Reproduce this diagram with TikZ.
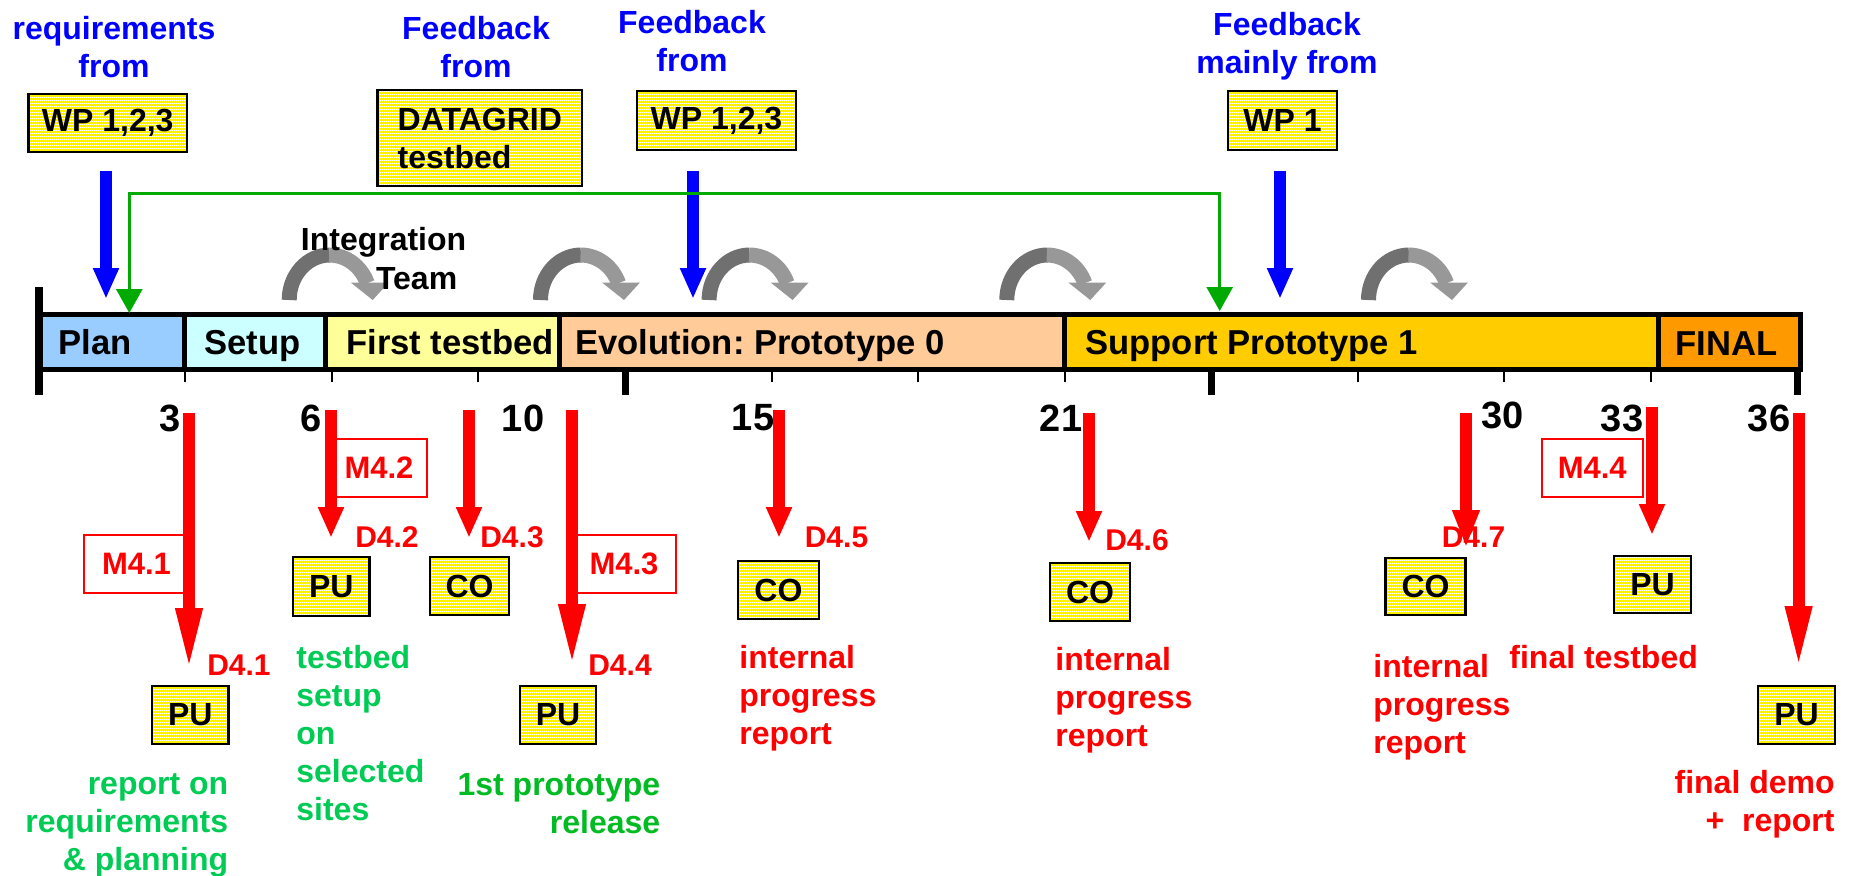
\documentclass[tikz,border=0pt]{standalone}
\usepackage{fontspec}
\setmainfont{Liberation Sans}
\usetikzlibrary{arrows.meta,patterns}
\pgfdeclarepatternformonly{ystripes}{\pgfqpoint{0pt}{0pt}}{\pgfqpoint{1pt}{1.5pt}}{\pgfqpoint{1pt}{1.5pt}}{\pgfpathrectangle{\pgfqpoint{-0.1pt}{0pt}}{\pgfqpoint{1.2pt}{0.65pt}}\pgfusepath{fill}}
\definecolor{cplan}{HTML}{99CCFF}
\definecolor{csetup}{HTML}{CCFFFF}
\definecolor{cfirst}{HTML}{FFFF99}
\definecolor{cevo}{HTML}{FFCC99}
\definecolor{csupp}{HTML}{FFCC00}
\definecolor{cfinal}{HTML}{FF9900}
\definecolor{cblue}{HTML}{0000FF}
\definecolor{cred}{HTML}{FF0000}
\definecolor{cgreenA}{HTML}{00CC55}
\definecolor{cgreenB}{HTML}{00BB22}
\definecolor{cgline}{HTML}{00AA00}
\definecolor{cgdark}{HTML}{707070}
\definecolor{cglight}{HTML}{989898}
\tikzset{
  txt/.style={inner sep=0pt, font=\fontsize{16}{19}\selectfont\bfseries},
  bluetxt/.style={txt, text=cblue, align=center, anchor=base},
  num/.style={inner sep=0pt, font=\fontsize{19}{22}\selectfont\bfseries},
  dlab/.style={inner sep=0pt, text=cred, font=\fontsize{15}{18}\selectfont\bfseries},
  mbox/.style={draw=cred, line width=1pt, inner sep=0pt, text=cred, font=\fontsize{15.5}{18}\selectfont\bfseries},
  seglab/.style={inner sep=0pt, font=\fontsize{17.3}{20}\selectfont\bfseries, anchor=base west},
  ybox/.style={draw=black, line width=1.2pt, preaction={fill=yellow}, pattern=ystripes, pattern color=white, inner sep=0pt, font=\fontsize{16}{19}\selectfont\bfseries},
  seg/.style={draw=black, line width=2.5pt},
  redarr/.style={draw=cred, line width=6pt, -{Triangle[length=15.5pt,width=12pt]}},
  redlong/.style={draw=cred, line width=6pt, -{Triangle[length=32pt,width=12pt]}},
  bluearr/.style={draw=cblue, line width=6.3pt, -{Triangle[length=15.5pt,width=12pt]}},
  greenarr/.style={draw=cgline, line width=1.5pt, {Triangle[length=12pt,width=13pt]}-{Triangle[length=12pt,width=13pt]}},
  gtxt/.style={txt, text=cgreenA},
  rtxt/.style={txt, text=cred},
  pics/grayarc/.style={code={
    \draw[cgdark, line width=7.5pt] (7.5,0) .. controls (7.5,-24.85) and (25.63,-45) .. (48,-45);
    \draw[cglight, line width=7.5pt] (47.5,-45) .. controls (64.5,-45) and (79.37,-33.87) .. (85.55,-16.86);
    \fill[cglight] (69,-17.5) -- (107,-17.5) -- (91,0) -- cycle;
  }}
}
\begin{document}
\begin{tikzpicture}[x=0.5pt,y=-0.5pt]
\useasboundingbox (0,0) rectangle (1852,875);
\fill[white] (0,0) rectangle (1852,875);

% top texts (base anchor = baseline of last line)
\node[bluetxt] (req) at (114,77.5) {requirements\\from};
\node[bluetxt] (fb1) at (476,77.5) {Feedback\\from};
\node[bluetxt] (fb2) at (692,71.5) {Feedback\\from};
\node[bluetxt] (fb3) at (1287,73.5) {Feedback\\mainly from};

% top boxes
\node[ybox, minimum width=79.25pt, minimum height=29pt] (wp1) at (107.75,123) {WP 1,2,3};
\node[ybox, minimum width=102.2pt, minimum height=48pt, align=left] (dg) at (479.8,138) {DATAGRID\\testbed};
\node[ybox, minimum width=79.5pt, minimum height=29.5pt] (wp2) at (716.5,120.5) {WP 1,2,3};
\node[ybox, minimum width=54.5pt, minimum height=29.5pt] (wp3) at (1282.5,120.5) {WP 1};

% gray curved arrows
\pic at (281.7,300) {grayarc};
\pic at (533,300) {grayarc};
\pic at (701.6,300) {grayarc};
\pic at (999.3,300) {grayarc};
\pic at (1361,300) {grayarc};

\node[txt, anchor=base west] (intA) at (300.5,250) {Integration};
\node[txt, anchor=base west] (intB) at (375.6,289) {Team};

% blue arrows
\coordinate (b1s) at (106,171); \coordinate (b1e) at (106,299);
\coordinate (b2s) at (693,171); \coordinate (b2e) at (693,299);
\coordinate (b3s) at (1280,171); \coordinate (b3e) at (1280,299);
\draw[bluearr] (b1s) -- (b1e);
\draw[bluearr] (b2s) -- (b2e);
\draw[bluearr] (b3s) -- (b3e);

% bar
\draw[seg, fill=cplan] (38.8,314.2) rectangle (184.7,369.2);
\draw[seg, fill=csetup] (184.7,314.2) rectangle (325.8,369.2);
\draw[seg, fill=cfirst] (325.8,314.2) rectangle (559.5,369.2);
\draw[seg, fill=cevo] (559.5,314.2) rectangle (1064,369.2);
\draw[seg, fill=csupp] (1064,314.2) rectangle (1658.7,369.2);
\draw[seg, fill=cfinal] (1658.7,314.2) rectangle (1800.5,369.2);
\draw[line width=3.85pt] (38.8,287) -- (38.8,395);
\foreach \m in {3,6,9,15,18,21,27,30,33} \draw[line width=1pt] ({38.8+48.853*\m},370) -- ({38.8+48.853*\m},382);
\foreach \m in {12,24,36} \draw[line width=3.5pt] ({38.8+48.853*\m},370) -- ({38.8+48.853*\m},395);

\node[seglab] (lplan) at (58,354) {Plan};
\node[seglab] (lsetup) at (204,354) {Setup};
\node[seglab] (lfirst) at (346,354) {First testbed};
\node[seglab] (levo) at (575,354) {Evolution:\ Prototype 0};
\node[seglab] (lsupp) at (1085,354) {Support Prototype 1};
\node[seglab] (lfinal) at (1675,355) {FINAL};

% green feedback line
\coordinate (gl) at (129.3,313);
\coordinate (gr) at (1219.7,311);
\draw[greenarr] (gl) -- ++(0,-120) -| (gr);

% numbers
\node[num] (n3) at (170.5,418) {3};
\node[num] (n6) at (311,418) {6};
\node[num] (n10) at (523,418) {10};
\node[num] (n15) at (753,418) {15};
\node[num] (n21) at (1061,418) {21};
\node[num] (n30) at (1502.5,415) {30};
\node[num] (n33) at (1622,418) {33};
\node[num] (n36) at (1769,418) {36};

% milestone boxes
\node[mbox, minimum width=52.5pt, minimum height=29pt] (m41) at (136.5,564) {M4.1};
\node[mbox, minimum width=48pt, minimum height=29pt] (m42) at (379,468) {M4.2};
\node[mbox, minimum width=52pt, minimum height=29pt] (m43) at (624,564) {M4.3};
\node[mbox, minimum width=50.25pt, minimum height=29pt] (m44) at (1592.25,468) {M4.4};

% red arrows
\coordinate (r1s) at (189,413); \coordinate (r1e) at (189,672);
\coordinate (r2s) at (331,410); \coordinate (r2e) at (331,538);
\coordinate (r3s) at (469,410); \coordinate (r3e) at (469,538);
\coordinate (r4s) at (572,410); \coordinate (r4e) at (572,668);
\coordinate (r5s) at (779,410); \coordinate (r5e) at (779,538);
\coordinate (r6s) at (1089,413); \coordinate (r6e) at (1089,542);
\coordinate (r7s) at (1466,413); \coordinate (r7e) at (1466,548);
\coordinate (r8s) at (1652,407); \coordinate (r8e) at (1652,535);
\coordinate (r9s) at (1798.6,413); \coordinate (r9e) at (1798.6,670);
\draw[redlong] (r1s) -- (r1e);
\draw[redarr] (r2s) -- (r2e);
\draw[redarr] (r3s) -- (r3e);
\draw[redlong] (r4s) -- (r4e);
\draw[redarr] (r5s) -- (r5e);
\draw[redarr] (r6s) -- (r6e);
\draw[redarr, -{Triangle[length=19pt,width=12.5pt]}] (r7s) -- (r7e);
\draw[redarr] (r8s) -- (r8e);
\draw[redlong] (r9s) -- (r9e);

% deliverable labels
\node[dlab] (d41) at (239,665) {D4.1};
\node[dlab] (d42) at (387,537) {D4.2};
\node[dlab] (d43) at (512,537) {D4.3};
\node[dlab] (d44) at (620,665) {D4.4};
\node[dlab] (d45) at (836.5,537) {D4.5};
\node[dlab] (d46) at (1137,540) {D4.6};
\node[dlab] (d47) at (1473.5,537) {D4.7};

% deliverable boxes
\node[ybox, minimum width=38.25pt, minimum height=29pt] (p1) at (190.25,715) {PU};
\node[ybox, minimum width=38.3pt, minimum height=29.5pt] (p2) at (331.3,586.5) {PU};
\node[ybox, minimum width=39.5pt, minimum height=29pt] (c3) at (469.5,586) {CO};
\node[ybox, minimum width=38pt, minimum height=29pt] (p4) at (558,715) {PU};
\node[ybox, minimum width=40.35pt, minimum height=29pt] (c5) at (778.4,590) {CO};
\node[ybox, minimum width=40pt, minimum height=29pt] (c6) at (1090,592) {CO};
\node[ybox, minimum width=40pt, minimum height=28.5pt] (c7) at (1425.5,586.5) {CO};
\node[ybox, minimum width=38.5pt, minimum height=28.5pt] (p8) at (1652.5,584.5) {PU};
\node[ybox, minimum width=38.5pt, minimum height=29pt] (p9) at (1796.5,715) {PU};

% descriptions (base anchor = baseline of last line)
\node[gtxt, align=right, anchor=base east] (t1) at (228.6,870) {report on\\requirements\\\& planning};
\node[gtxt, align=left, anchor=base west] (t2) at (296,820) {testbed\\setup\\on\\selected\\sites};
\node[txt, text=cgreenB, align=right, anchor=base east] (t4) at (660.7,833) {1st prototype\\release};
\node[rtxt, align=left, anchor=base west] (t5) at (739,744) {internal\\progress\\report};
\node[rtxt, align=left, anchor=base west] (t6) at (1055,746) {internal\\progress\\report};
\node[rtxt, align=left, anchor=base west] (t7) at (1373,753) {internal\\progress\\report};
\node[rtxt, anchor=base west] (t8) at (1509,668) {final testbed};
\node[rtxt, align=right, anchor=base east] (t9) at (1835,831) {final demo\\+\ \ report};
\end{tikzpicture}
\end{document}
